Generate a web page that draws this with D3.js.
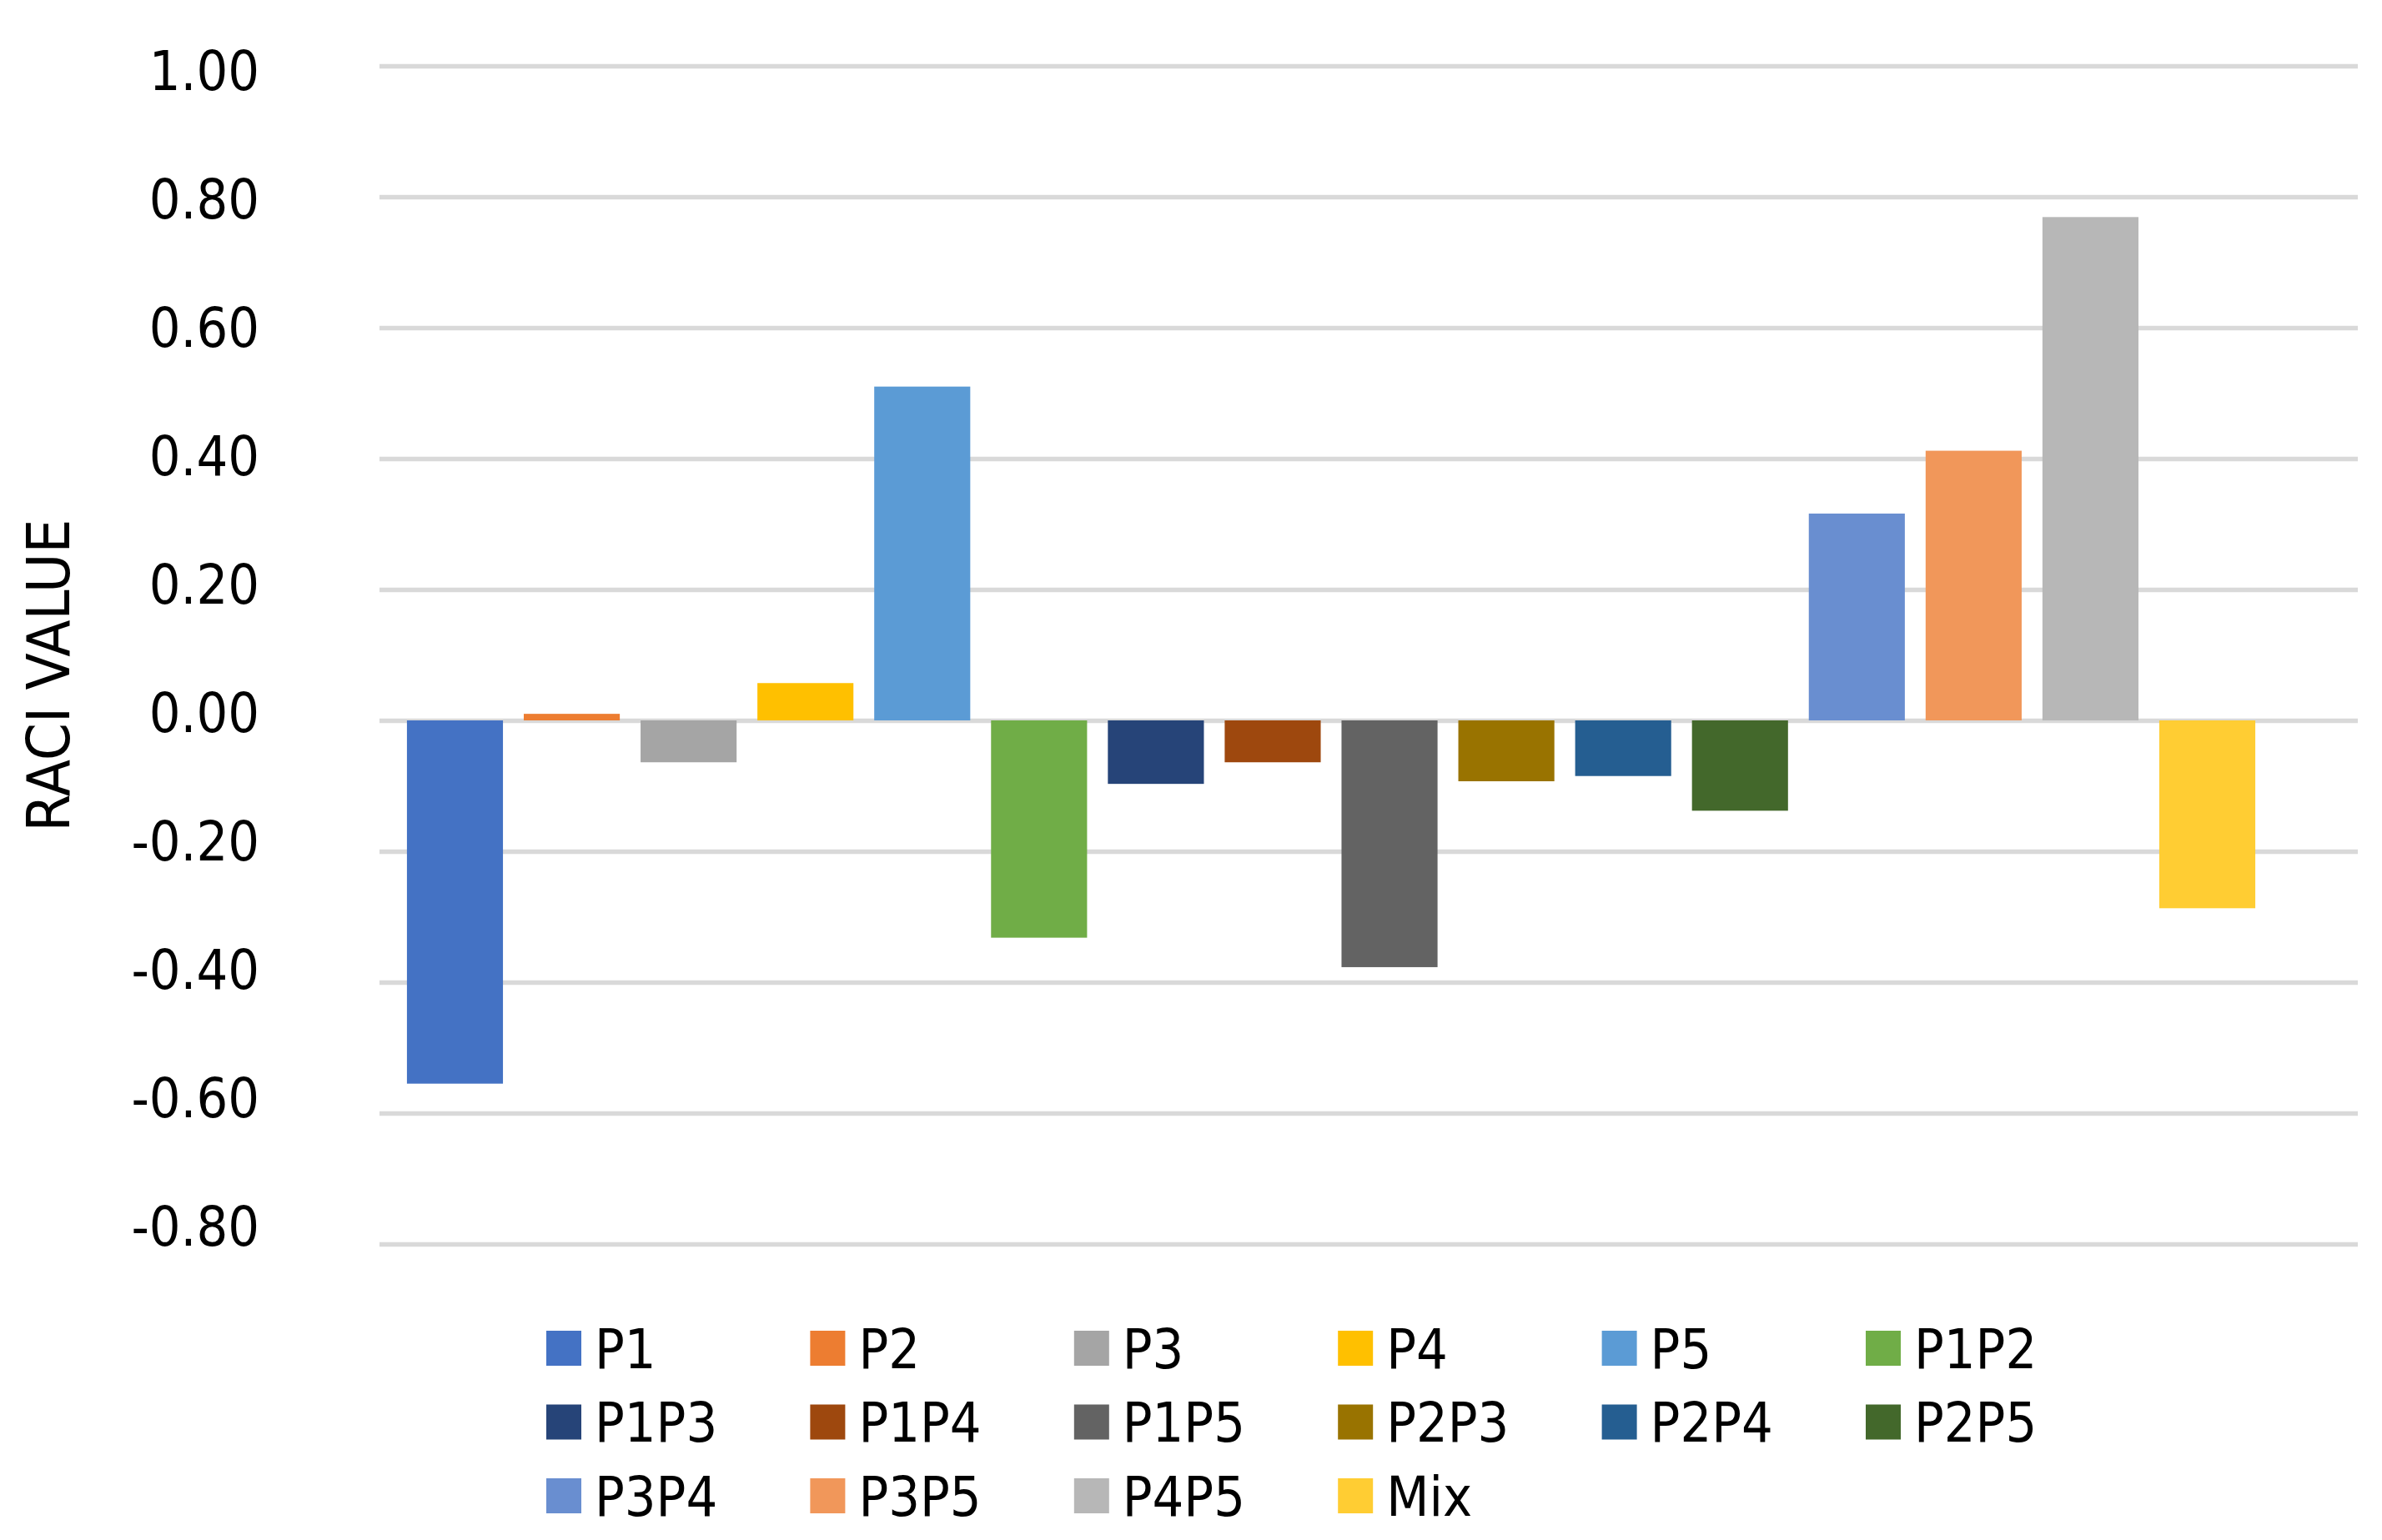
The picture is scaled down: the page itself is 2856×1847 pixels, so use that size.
<!DOCTYPE html>
<html lang="en">
	<head>
		<meta charset="utf-8">
		<title>RACI value</title>
		<script src="https://d3js.org/d3.v7.min.js"></script>
		<style>
			body
			{
				margin:0;
				background:#ffffff;
			}
			text
			{
				font-family: "DejaVu Sans Condensed", "DejaVu Sans", sans-serif;
				font-stretch: condensed;
				fill: #000000;
			}
			.grid line
			{
				stroke: #d9d9d9;
				stroke-width: 5.5;
			}
			.grid path { stroke-width: 0; }
		</style>
	</head>
	<body>
		<script>
			// one bar per treatment
			var categories = ["P1","P2","P3","P4","P5","P1P2","P1P3","P1P4","P1P5","P2P3","P2P4","P2P5","P3P4","P3P5","P4P5","Mix"];
			var raciValues = [-0.555, 0.01, -0.064, 0.057, 0.51, -0.332, -0.097, -0.064, -0.377, -0.093, -0.085, -0.138, 0.316, 0.412, 0.769, -0.287];
			var barColors = ["#4472c4","#ed7d31","#a5a5a5","#ffc000","#5b9bd5","#70ad47","#264478","#9e480e","#636363","#997300","#255e91","#43682b","#698ed0","#f1975a","#b7b7b7","#ffcd33"];
			var yTicks = [1.0, 0.8, 0.6, 0.4, 0.2, 0.0, -0.2, -0.4, -0.6, -0.8];
			var yTitle = "RACI VALUE";

			var totalWidth = 2856;
			var totalHeight = 1847;
			var plot = {left: 455, right: 2827, top: 79, bottom: 1492};
			var fontSize = 66;

			var svg = d3.select("body").append("svg")
				.attr("width", totalWidth)
				.attr("height", totalHeight);

			var yScale = d3.scaleLinear()
				.domain([-0.8, 1.0])
				.range([plot.bottom, plot.top]);

			// the labels in the original sit on a slightly tighter spacing than the gridlines
			var yLabelScale = d3.scaleLinear()
				.domain([-0.8, 1.0])
				.range([1470, 84]);

			// bars leave extra room at the right end, like the excel original
			var xScale = d3.scaleBand()
				.domain(categories)
				.range([plot.left, plot.right - 90])
				.paddingInner(0.178)
				.paddingOuter(0.235);

			var data = categories.map(function(c, i) {
				return {name: c, value: raciValues[i], color: barColors[i]};
			});

			// gridlines
			svg.append("g")
				.attr("class", "grid")
				.attr("transform", "translate(" + plot.left + ",0)")
				.call(d3.axisRight(yScale).tickValues(yTicks).tickSize(plot.right - plot.left).tickFormat(""));

			// tick labels
			svg.append("g")
				.selectAll("text")
				.data(yTicks)
				.enter()
				.append("text")
				.attr("x", 311)
				.attr("y", function(d) { return yLabelScale(d); })
				.attr("dy", "0.36em")
				.attr("text-anchor", "end")
				.style("font-size", fontSize + "px")
				.text(function(d) { return d3.format(".2f")(d).replace("−", "-"); });

			svg.append("text")
				.attr("transform", "translate(57,810) rotate(-90)")
				.attr("dy", "0.36em")
				.attr("text-anchor", "middle")
				.style("font-size", "72px")
				.text(yTitle);

			svg.append("g")
				.selectAll("rect")
				.data(data)
				.enter()
				.append("rect")
				.attr("x", function(d) { return xScale(d.name); })
				.attr("width", xScale.bandwidth())
				.attr("y", function(d) { return yScale(Math.max(0, d.value)); })
				.attr("height", function(d) { return Math.abs(yScale(d.value) - yScale(0)); })
				.style("fill", function(d) { return d.color; });

			// legend, 6 per row
			var legendX = d3.scalePoint().domain(d3.range(6)).range([655, 2237]);
			var legendY = d3.scalePoint().domain(d3.range(3)).range([1617, 1794]);
			var swatch = 42;

			var item = svg.append("g")
				.selectAll("g")
				.data(data)
				.enter()
				.append("g")
				.attr("transform", function(d, i) {
					return "translate(" + legendX(i % 6) + "," + legendY(Math.floor(i / 6)) + ")";
				});

			item.append("rect")
				.attr("y", -swatch / 2)
				.attr("width", swatch)
				.attr("height", swatch)
				.style("fill", function(d) { return d.color; });

			item.append("text")
				.attr("x", swatch + 16)
				.attr("dy", "0.36em")
				.style("font-size", fontSize + "px")
				.text(function(d) { return d.name; });
		</script>
	</body>
</html>
